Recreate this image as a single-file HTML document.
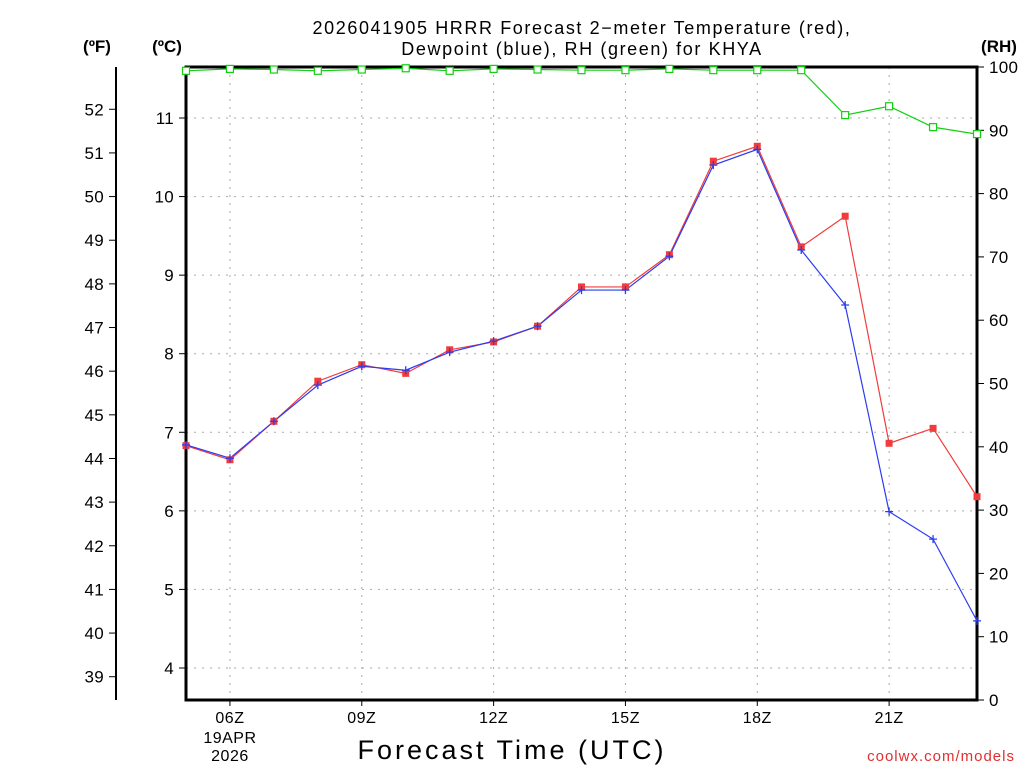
<!DOCTYPE html>
<html><head><meta charset="utf-8"><style>
html,body{margin:0;padding:0;background:#fff;}
svg{display:block;font-family:"Liberation Sans",sans-serif;}
</style></head><body>
<svg id="chart" width="1024" height="768" viewBox="0 0 1024 768">
<text x="582" y="34" font-size="18" text-anchor="middle" letter-spacing="1.6">2026041905 HRRR Forecast 2−meter Temperature (red),</text>
<text x="582" y="55" font-size="18" text-anchor="middle" letter-spacing="1.6">Dewpoint (blue), RH (green) for KHYA</text>
<text x="97" y="52" font-size="17" font-weight="bold" text-anchor="middle">(ºF)</text>
<text x="167" y="52" font-size="17" font-weight="bold" text-anchor="middle">(ºC)</text>
<text x="999" y="52" font-size="17" font-weight="bold" text-anchor="middle">(RH)</text>
<text x="512" y="759" font-size="27" text-anchor="middle" letter-spacing="3">Forecast Time (UTC)</text>
<text x="1015" y="761" font-size="15" fill="#e03030" text-anchor="end" letter-spacing="1">coolwx.com/models</text>
<g id="grid"></g><g id="axes"></g><g id="series"></g>
</svg>
<script>
const hours = [5,6,7,8,9,10,11,12,13,14,15,16,17,18,19,20,21,22,23];
const tempC = [6.83,6.65,7.14,7.65,7.86,7.75,8.05,8.15,8.35,8.85,8.85,9.26,10.45,10.64,9.36,9.75,6.86,7.05,6.18];
const dewC = [6.84,6.67,7.14,7.60,7.84,7.79,8.02,8.16,8.35,8.81,8.81,9.24,10.40,10.60,9.32,8.62,5.99,5.64,4.60];
const rh = [99.4,99.7,99.6,99.4,99.6,99.8,99.4,99.7,99.6,99.5,99.5,99.7,99.5,99.5,99.5,92.4,93.8,90.5,89.4];
const xTicks = [6,9,12,15,18,21];
const cTicks = [4,5,6,7,8,9,10,11];
const fTicks = [39,40,41,42,43,44,45,46,47,48,49,50,51,52];
const rhTicks = [0,10,20,30,40,50,60,70,80,90,100];

const L=186,R=977,T=67,B=700;
const xS=h=>L+(h-5)*(R-L)/18;
const yC=c=>118+(11-c)*78.57;
const yF=f=>yC((f-32)/1.8);
const yR=v=>B-v*(B-T)/100;
const NS="http://www.w3.org/2000/svg";
function mk(tag,attrs,parent,txt){const e=document.createElementNS(NS,tag);for(const k in attrs)e.setAttribute(k,attrs[k]);if(txt!==undefined)e.textContent=txt;parent.appendChild(e);return e;}
const grid=document.getElementById('grid'),axes=document.getElementById('axes'),ser=document.getElementById('series');

xTicks.forEach(h=>{
  const g=mk('line',{x1:xS(h),x2:xS(h),y1:T,y2:B,stroke:'#aaa','stroke-dasharray':'2,6'},grid);
  
  
  mk('line',{x1:xS(h),x2:xS(h),y1:B,y2:B+6,stroke:'#000'},axes);
  const t=mk('text',{x:xS(h),y:723,'font-size':16,'text-anchor':'middle','letter-spacing':0.5},axes,String(h).padStart(2,'0')+'Z');
  
  
});
const d1=mk('text',{x:xS(6),y:743,'font-size':16,'text-anchor':'middle','letter-spacing':0.5},axes,'19APR');


const d2=mk('text',{x:xS(6),y:761,'font-size':16,'text-anchor':'middle','letter-spacing':0.5},axes,'2026');



cTicks.forEach(c=>{
  const g=mk('line',{x1:L,x2:R,y1:yC(c),y2:yC(c),stroke:'#aaa','stroke-dasharray':'2,6'},grid);
  
  
  mk('line',{x1:L-7,x2:L,y1:yC(c),y2:yC(c),stroke:'#000'},axes);
  const t=mk('text',{x:L-12,y:yC(c)+6,'font-size':17,'text-anchor':'end','letter-spacing':0.3},axes,c);
  
  
});
mk('line',{x1:116,x2:116,y1:T,y2:B,stroke:'#000','stroke-width':2},axes);
fTicks.forEach(f=>{
  mk('line',{x1:109,x2:116,y1:yF(f),y2:yF(f),stroke:'#000'},axes);
  const t=mk('text',{x:104,y:yF(f)+6,'font-size':17,'text-anchor':'end','letter-spacing':0.3},axes,f);
  
  
});
rhTicks.forEach(v=>{
  mk('line',{x1:R,x2:R+7,y1:yR(v),y2:yR(v),stroke:'#000'},axes);
  const t=mk('text',{x:R+12,y:yR(v)+6,'font-size':17,'letter-spacing':0.3},axes,v);
  
  
});
const fr=mk('rect',{x:L,y:T,width:R-L,height:B-T,fill:'none',stroke:'#000','stroke-width':3},axes);



function line(vals,yf,color,name){
  const p=mk('polyline',{points:vals.map((v,i)=>xS(hours[i])+','+yf(v)).join(' '),fill:'none',stroke:color,'stroke-width':1.2},ser);
  
  
}
line(rh,yR,'#10d010','rh-line');
line(tempC,yC,'#f03c3c','temperature-line');
line(dewC,yC,'#2a3cf0','dewpoint-line');
rh.forEach((v,i)=>{
  const m=mk('rect',{x:xS(hours[i])-3.5,y:yR(v)-3.5,width:7,height:7,fill:'#fff',stroke:'#10d010','stroke-width':1.2},ser);
  
  
});
tempC.forEach((v,i)=>{
  const m=mk('rect',{x:xS(hours[i])-3.5,y:yC(v)-3.5,width:7,height:7,fill:'#f03c3c'},ser);
  
  
});
dewC.forEach((v,i)=>{
  const x=xS(hours[i]),y=yC(v);
  const m=mk('path',{d:`M${x-4},${y}H${x+4}M${x},${y-4}V${y+4}`,stroke:'#2a3cf0','stroke-width':1.3},ser);
  
  
});
</script>
</body></html>
